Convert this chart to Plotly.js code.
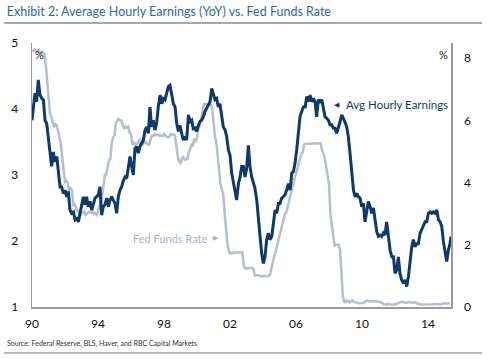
<!DOCTYPE html>
<html><head><meta charset="utf-8">
<script src="https://cdn.plot.ly/plotly-3.0.1.min.js"></script>
<style>html,body{margin:0;padding:0;background:#fff}#chart{width:488px;height:359px}</style>
</head><body><div id="chart"></div>
<script>
// Average hourly earnings, YoY % (left axis)
const aheYears = [
1990.00,1990.08,1990.18,1990.28,1990.38,1990.49,1990.59,1990.69,1990.79,1990.89,1990.99,
1991.09,1991.19,1991.29,1991.39,1991.50,1991.60,1991.70,1991.80,1991.90,
1992.00,1992.10,1992.20,1992.30,1992.40,1992.51,1992.61,1992.71,1992.81,1992.91,
1993.01,1993.11,1993.21,1993.31,1993.41,1993.52,1993.62,1993.72,1993.82,1993.92,
1994.02,1994.12,1994.22,1994.32,1994.42,1994.53,1994.63,1994.73,1994.83,1994.93,
1995.03,1995.13,1995.23,1995.33,1995.43,1995.54,1995.64,1995.74,1995.84,1995.94,
1996.04,1996.14,1996.24,1996.35,1996.44,1996.54,1996.65,1996.75,1996.85,1996.95,
1997.05,1997.15,1997.25,1997.35,1997.45,1997.55,1997.65,1997.76,1997.86,1997.96,
1998.06,1998.16,1998.26,1998.36,1998.46,1998.57,1998.67,1998.77,1998.87,1998.97,
1999.07,1999.17,1999.27,1999.37,1999.48,1999.58,1999.68,1999.78,1999.88,1999.98,
2000.08,2000.18,2000.28,2000.38,2000.48,2000.59,2000.69,2000.79,2000.89,2000.99,
2001.09,2001.19,2001.29,2001.39,2001.49,2001.59,2001.70,2001.80,2001.90,2002.00,
2002.10,2002.20,2002.30,2002.40,2002.51,2002.61,2002.71,2002.81,2002.91,2003.01,
2003.11,2003.21,2003.31,2003.41,2003.51,2003.62,2003.72,2003.82,2003.92,2004.02,
2004.12,2004.22,2004.32,2004.42,2004.53,2004.63,2004.73,2004.83,2004.93,2005.03,
2005.13,2005.23,2005.33,2005.43,2005.54,2005.64,2005.74,2005.84,2005.94,2006.04,
2006.14,2006.24,2006.34,2006.44,2006.55,2006.65,2006.75,2006.85,2006.95,2007.05,
2007.15,2007.25,2007.35,2007.45,2007.56,2007.66,2007.76,2007.86,2007.96,2008.06,
2008.16,2008.26,2008.36,2008.46,2008.57,2008.67,2008.77,2008.87,2008.97,2009.07,
2009.17,2009.27,2009.37,2009.48,2009.58,2009.68,2009.78,2009.88,2009.98,2010.08,
2010.18,2010.28,2010.38,2010.49,2010.59,2010.69,2010.79,2010.89,2010.99,2011.09,
2011.19,2011.29,2011.39,2011.49,2011.60,2011.70,2011.80,2011.90,2012.00,2012.10,
2012.20,2012.30,2012.40,2012.51,2012.61,2012.71,2012.81,2012.91,2013.01,2013.11,
2013.21,2013.31,2013.41,2013.52,2013.62,2013.72,2013.82,2013.92,2014.02,2014.12,
2014.22,2014.32,2014.42,2014.53,2014.63,2014.73,2014.83,2014.93,2015.03,2015.13,
2015.23,2015.33,2015.39
];
const aheValues = [
3.83,4.03,4.24,4.11,4.44,4.21,4.16,4.14,3.83,3.78,3.53,
3.38,3.13,3.35,3.20,3.28,3.05,2.82,2.82,2.72,
2.77,2.67,2.75,2.47,2.42,2.44,2.32,2.34,2.29,2.42,
2.52,2.67,2.55,2.67,2.52,2.60,2.47,2.57,2.65,2.67,
2.70,2.82,2.39,2.52,2.55,2.65,2.52,2.62,2.67,2.62,
2.57,2.42,2.67,2.77,2.82,2.92,2.97,2.95,3.13,3.28,
3.13,3.00,3.40,3.43,3.33,3.43,3.48,3.53,3.68,3.73,
3.63,4.03,3.73,3.83,3.68,3.78,4.03,4.21,4.08,4.16,
4.14,4.24,4.34,4.36,4.24,4.08,4.03,3.78,3.66,3.75,
3.63,3.53,3.58,3.53,3.91,3.81,3.83,3.68,3.73,3.66,
3.75,3.81,3.83,3.88,3.96,4.01,4.06,4.11,4.31,4.21,
4.14,4.16,4.03,4.08,3.93,3.73,3.68,3.58,3.38,3.30,
3.03,2.87,2.77,2.62,2.87,2.97,3.13,3.13,2.97,3.10,
3.45,3.13,2.97,2.87,2.80,2.62,2.29,2.07,1.81,1.66,
1.76,2.02,2.12,2.02,2.07,2.29,2.47,2.42,2.57,2.57,
2.65,2.67,2.70,2.77,2.87,2.77,3.03,3.05,3.18,3.38,
3.68,3.88,3.96,4.03,4.03,4.19,4.11,4.21,4.11,4.16,
4.11,3.88,4.14,4.11,4.14,4.03,3.88,3.86,3.83,3.76,
3.76,3.71,3.71,3.63,3.71,3.81,3.91,3.86,3.80,3.73,
3.58,3.33,3.03,2.77,2.67,2.72,2.67,2.65,2.52,2.57,
2.29,2.47,2.60,2.52,2.42,2.50,2.32,2.14,2.07,2.09,
2.07,2.12,2.09,2.29,2.07,1.86,1.76,1.76,1.51,1.56,
1.76,1.51,1.41,1.36,1.41,1.31,1.46,1.71,1.91,2.02,
1.91,1.96,1.96,2.12,2.17,2.22,2.29,2.29,2.42,2.44,
2.42,2.44,2.42,2.47,2.32,2.29,2.22,1.99,1.86,1.69,
1.86,1.96,2.07
];

// Fed funds rate, monthly %, Jan 1990 onward (right axis)
const ffrStartYear = 1990;
const ffrMonthly = [
8.23,8.24,8.28,8.26,8.18,8.29,8.15,8.13,8.20,8.11,7.81,7.31,
6.91,6.25,6.12,5.91,5.78,5.90,5.82,5.66,5.45,5.21,4.81,4.43,
4.03,4.06,3.98,3.73,3.82,3.76,3.25,3.30,3.22,3.10,3.09,2.92,
3.02,3.03,3.07,2.96,3.00,3.04,3.06,3.03,3.09,2.99,3.02,2.96,
3.05,3.25,3.34,3.56,4.01,4.25,4.26,4.47,4.73,4.76,5.29,5.45,
5.53,5.92,5.98,6.05,6.01,6.00,5.85,5.74,5.80,5.76,5.80,5.60,
5.56,5.22,5.31,5.22,5.24,5.27,5.40,5.22,5.30,5.24,5.31,5.29,
5.25,5.19,5.39,5.51,5.50,5.56,5.52,5.54,5.54,5.50,5.52,5.50,
5.56,5.51,5.49,5.45,5.49,5.56,5.54,5.55,5.51,5.07,4.83,4.68,
4.63,4.76,4.81,4.74,4.74,4.76,4.99,5.07,5.22,5.20,5.42,5.30,
5.45,5.73,5.85,6.02,6.27,6.53,6.54,6.50,6.52,6.51,6.51,6.40,
5.98,5.49,5.31,4.80,4.21,3.97,3.77,3.65,3.07,2.49,2.09,1.82,
1.73,1.74,1.73,1.75,1.75,1.75,1.73,1.74,1.75,1.75,1.34,1.24,
1.24,1.26,1.25,1.26,1.26,1.22,1.01,1.03,1.01,1.01,1.00,0.98,
1.00,1.01,1.00,1.00,1.00,1.03,1.26,1.43,1.61,1.76,1.93,2.16,
2.28,2.50,2.63,2.79,3.00,3.04,3.26,3.50,3.62,3.78,4.00,4.16,
4.29,4.49,4.59,4.79,4.94,4.99,5.24,5.25,5.25,5.25,5.25,5.24,
5.25,5.26,5.26,5.25,5.25,5.25,5.26,5.02,4.94,4.76,4.49,4.24,
3.94,2.98,2.61,2.28,1.98,2.00,2.01,2.00,1.81,0.97,0.39,0.16,
0.15,0.22,0.18,0.15,0.18,0.21,0.16,0.16,0.15,0.12,0.12,0.12,
0.11,0.13,0.16,0.20,0.20,0.18,0.18,0.19,0.19,0.19,0.19,0.18,
0.17,0.16,0.14,0.10,0.09,0.09,0.07,0.10,0.08,0.07,0.08,0.07,
0.08,0.10,0.13,0.14,0.16,0.16,0.16,0.13,0.14,0.16,0.16,0.16,
0.14,0.15,0.14,0.15,0.11,0.09,0.09,0.08,0.08,0.09,0.08,0.09,
0.07,0.07,0.08,0.09,0.09,0.10,0.09,0.09,0.09,0.09,0.09,0.12,
0.11,0.11,0.11,0.12,0.12
];
const ffrYears = ffrMonthly.map((v, i) => ffrStartYear + i / 12);

const xTickValues = [1990, 1994, 1998, 2002, 2006, 2010, 2014];
const xTickLabels = ['90', '94', '98', '02', '06', '10', '14'];
const leftTicks = [1, 2, 3, 4, 5];
const rightTicks = [0, 2, 4, 6, 8];

const DARK = '#0e3a6b';
const LIGHT = '#b4bfcf';
const LIGHT_TEXT = '#a9b4c6';
const FONT = 'Lato, "Open Sans", sans-serif';

const traces = [
  {x: ffrYears, y: ffrMonthly, type: 'scatter', mode: 'lines', yaxis: 'y',
   line: {color: LIGHT, width: 2.5}, hoverinfo: 'skip', name: 'Fed Funds Rate'},
  {x: aheYears, y: aheValues, type: 'scatter', mode: 'lines', yaxis: 'y2',
   line: {color: DARK, width: 3}, hoverinfo: 'skip', name: 'Avg Hourly Earnings'}
];

function note(text, x, y, font, xanchor) {
  return {text: text, xref: 'paper', yref: 'paper', x: x, y: y, showarrow: false,
          xanchor: xanchor || 'center', yanchor: 'middle', font: font};
}

const layout = {
  width: 488, height: 359,
  margin: {l: 32, r: 37, t: 43, b: 52},
  paper_bgcolor: '#fff', plot_bgcolor: '#fff',
  showlegend: false,
  font: {family: FONT, color: '#222', size: 11},
  title: {text: 'Exhibit 2: Average Hourly Earnings (YoY) vs. Fed Funds Rate',
    x: 0.014, xanchor: 'left', xref: 'container',
    y: 1 - 12 / 359, yanchor: 'middle', yref: 'container',
    font: {family: FONT, size: 12.5, color: '#2f6aa8'}},
  xaxis: {range: [1990, 2015.39], tickvals: xTickValues, ticktext: xTickLabels,
    showgrid: false, zeroline: false, showline: true, linecolor: '#9a9a9a', linewidth: 1.5,
    ticks: 'outside', ticklen: 5, tickcolor: 'rgba(0,0,0,0)',
    tickfont: {family: FONT, size: 12, color: '#111'}},
  yaxis: {range: [0, 8.49], side: 'right', tickvals: rightTicks,
    showgrid: false, zeroline: false, showline: true, linecolor: '#9a9a9a', linewidth: 1.5,
    ticks: 'outside', ticklen: 9, tickcolor: 'rgba(0,0,0,0)',
    tickfont: {family: FONT, size: 12, color: '#111'}},
  yaxis2: {range: [1, 5], side: 'left', overlaying: 'y', tickvals: leftTicks,
    showgrid: false, zeroline: false, showline: true, linecolor: '#9a9a9a', linewidth: 1.5,
    ticks: 'outside', ticklen: 10, tickcolor: 'rgba(0,0,0,0)',
    tickfont: {family: FONT, size: 12, color: '#111'}},
  shapes: [
    {type: 'line', xref: 'paper', yref: 'paper', x0: -0.0668, x1: 1.074, y0: 1.0758, y1: 1.0758,
     line: {color: '#555', width: 1.2}},
    {type: 'line', xref: 'paper', yref: 'paper', x0: -0.0668, x1: 1.074, y0: -0.1742, y1: -0.1742,
     line: {color: '#777', width: 1}}
  ],
  annotations: [
    note('%', 0.019, 0.958, {family: FONT, size: 11, color: '#222'}),
    note('%', 0.981, 0.958, {family: FONT, size: 11, color: '#222'}),
    note('\u25C0', 0.728, 0.767, {family: 'DejaVu Sans', size: 7, color: DARK}),
    note('Avg Hourly Earnings', 0.7446, 0.767, {family: FONT, size: 11.5, color: DARK}, 'left'),
    note('Fed Funds Rate', 0.236, 0.261, {family: FONT, size: 11, color: LIGHT_TEXT}, 'left'),
    note('\u25B6', 0.439, 0.263, {family: 'DejaVu Sans', size: 7, color: LIGHT_TEXT}),
    note('Source: Federal Reserve, BLS, Haver, and RBC Capital Markets', -0.0644, -0.140,
         {family: FONT, size: 7, color: '#333'}, 'left')
  ]
};

Plotly.newPlot('chart', traces, layout, {staticPlot: true, displayModeBar: false});
</script>
</body></html>
